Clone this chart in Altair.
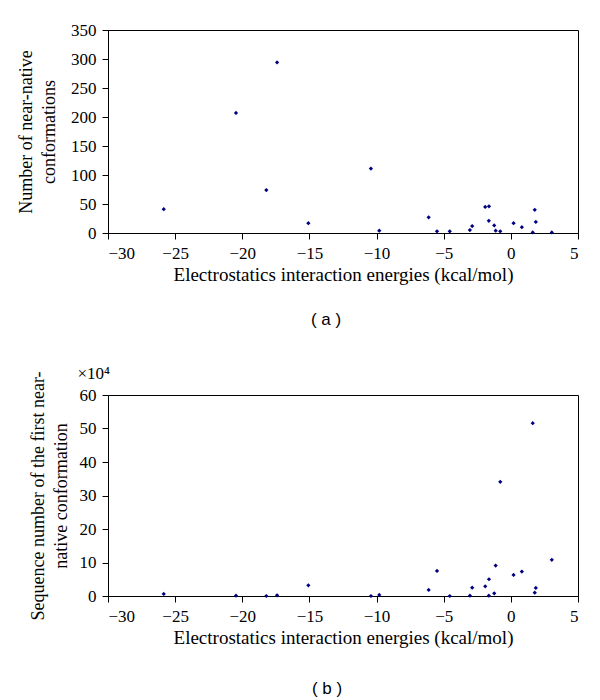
import altair as alt
import pandas as pd

# Electrostatics interaction energies (kcal/mol), shared by both panels
energies = [-25.85, -20.47, -18.21, -17.41, -15.08, -10.42, -9.80, -6.12,
            -5.50, -4.55, -3.05, -2.88, -1.91, -1.63, -1.64, -1.24,
            -1.13, -0.79, 0.20, 0.82, 1.63, 1.78, 1.86, 3.05]
# Panel (a): number of near-native conformations
near_native = [41, 207, 74, 294, 17, 111, 4, 27,
               3, 3, 5, 12, 45, 46, 21, 13,
               4, 3, 17, 10, 1, 40, 19, 1]
# Panel (b): sequence number of the first near-native conformation (x10^4)
first_seq = [0.6, 0.1, 0.0, 0.2, 3.2, 0.0, 0.3, 1.8,
             7.5, 0.0, 0.1, 2.5, 2.9, 5.0, 0.1, 0.8,
             9.1, 34.1, 6.3, 7.3, 51.6, 1.0, 2.4, 10.8]

x_ticks = [-30, -25, -20, -15, -10, -5, 0, 5]
ya_ticks = [0, 50, 100, 150, 200, 250, 300, 350]
yb_ticks = [0, 10, 20, 30, 40, 50, 60]

df = pd.DataFrame({"energy": energies, "near": near_native, "seq": first_seq})

SERIF = "Liberation Serif"
NAVY = "#000080"
XTITLE = "Electrostatics interaction energies (kcal/mol)"

def xaxis():
    return alt.X("energy:Q", scale=alt.Scale(domain=[-30, 5], nice=False),
                 axis=alt.Axis(values=x_ticks, title=XTITLE, titleFontSize=19))

pa = alt.Chart(df).mark_point(shape="diamond", filled=True, size=18,
                              color=NAVY, opacity=1).encode(
    x=xaxis(),
    y=alt.Y("near:Q", scale=alt.Scale(domain=[0, 350], nice=False),
            axis=alt.Axis(values=ya_ticks, titlePadding=12, titleLimit=400,
                          title=["Number of near-native", "conformations"]))
).properties(width=470, height=203,
             title=alt.TitleParams("( a )", orient="bottom", font="Liberation Sans",
                                   fontSize=17, fontWeight="normal", offset=28,
                                   dx=-17))

pts_b = alt.Chart(df).mark_point(shape="diamond", filled=True, size=18,
                                 color=NAVY, opacity=1).encode(
    x=xaxis(),
    y=alt.Y("seq:Q", scale=alt.Scale(domain=[0, 60], nice=False),
            axis=alt.Axis(values=yb_ticks, titlePadding=9, titleLimit=400,
                          title=["Sequence number of the first near-",
                                 "native conformation"]))
)
exp_label = alt.Chart(pd.DataFrame({"t": ["×10⁴"]})).mark_text(
    font=SERIF, fontSize=17, align="right", baseline="alphabetic", color="black"
).encode(x=alt.value(2), y=alt.value(-16), text="t:N")

pb = alt.layer(pts_b, exp_label).properties(
    width=470, height=201,
    title=alt.TitleParams("( b )", orient="bottom", font="Liberation Sans",
                          fontSize=17, fontWeight="normal", offset=34, dx=-16))

chart = alt.vconcat(pa, pb, spacing=35, background="white",
                    padding={"left": 9, "top": 12, "right": 5, "bottom": 0}
).configure_view(
    stroke="black", strokeWidth=1
).configure_axis(
    grid=False, domainColor="black", tickColor="black", labelColor="black",
    titleColor="black", labelFont=SERIF, titleFont=SERIF, labelFontSize=17,
    titleFontSize=18, titleFontWeight="normal", tickSize=6, labelPadding=6,
    titleLineHeight=23
)

chart.save("out.html", embed_options={"renderer": "svg", "actions": False})
